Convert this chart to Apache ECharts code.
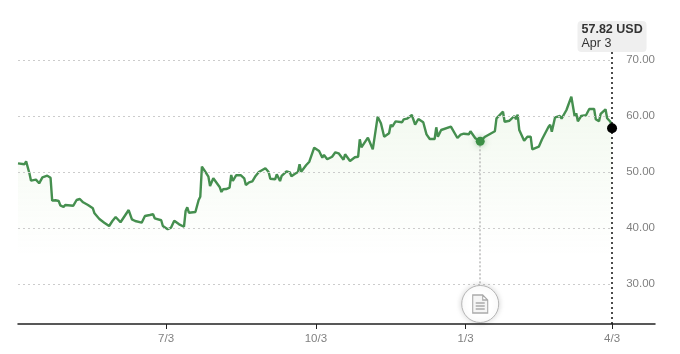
<!DOCTYPE html>
<html>
<head>
<meta charset="utf-8">
<script src="https://cdn.jsdelivr.net/npm/echarts@6/dist/echarts.min.js"></script>
<style>
  html, body { margin: 0; padding: 0; background: #fff; }
  #show { width: 680px; height: 354px; }
</style>
</head>
<body>
<div id="show"></div>
<script>
// days since the first point (Apr 3), and the closing price on that day
var days = [0, 4, 5, 7, 8, 11, 13, 15, 18, 20, 21, 23, 25, 26, 27, 28, 29, 34, 35, 36, 38, 40, 43, 46, 47, 48, 50, 53, 56,
    58, 60, 61, 63, 68, 70, 72, 76, 77, 78, 81, 83, 84, 85, 88, 89, 92, 94, 96, 99, 102, 103, 104, 105, 109, 111, 112,
    113, 116, 117, 118, 120, 124, 125, 126, 128, 130, 131, 132, 134, 137, 139, 140, 142, 144, 146, 148, 152, 154, 155,
    158, 159, 161, 162, 165, 167, 168, 170, 172, 173, 174, 177, 179, 182, 185, 187, 188, 190, 193, 195, 197, 200, 201,
    202, 204, 207, 209, 210, 211, 215, 218, 221, 223, 224, 225, 228, 229, 230, 232, 236, 237, 239, 242, 244, 246, 249,
    251, 253, 256, 257, 258, 260, 266, 270, 272, 274, 277, 278, 281, 284, 287, 290, 293, 294, 298, 299, 302, 303, 305,
    306, 307, 308, 311, 313, 315, 316, 320, 322, 323, 326, 327, 328, 330, 333, 334, 337, 340, 342, 343, 344, 346, 349,
    351, 354, 355, 357, 358, 361, 362, 364, 365];
var prices = [51.55, 51.38, 51.9, 49.77, 48.45, 48.63, 47.98, 49.05, 49.34, 48.98, 44.88, 44.95, 44.82, 44.05, 44.11, 43.75, 44.11, 43.98, 43.7, 45.0, 45.18, 44.59, 44.11, 43.52, 42.63, 42.45, 41.61, 40.95, 40.36,
    41.25, 41.96, 41.91, 41.02, 43.21, 41.55, 41.25, 40.95, 41.2, 42.14, 42.32, 42.45, 41.73, 41.61, 41.38, 40.36, 39.77, 40.05, 41.3, 40.66, 40.23, 43.04, 43.7, 42.73, 42.86, 45.0, 45.59,
    50.95, 49.64, 49.16, 47.5, 48.88, 47.27, 46.43, 46.91, 46.96, 47.2, 49.46, 48.39, 49.41, 49.41, 48.88, 47.68, 48.16, 48.34, 49.29, 50.0, 50.66, 50.0, 48.8,
    48.7, 49.59, 48.39, 49.29, 50.13, 49.95, 49.23, 49.64, 50.0, 51.38, 50.05, 51.2, 51.84, 54.34, 53.75, 52.55, 53.04, 52.27, 52.73, 53.52, 53.34, 52.2, 53.16,
    53.27, 51.96, 52.63, 52.73, 55.84, 54.41, 56.13, 54.05, 59.88, 58.7, 58.52, 56.3, 56.91, 58.45, 58.09, 59.05, 58.88, 59.41, 59.52, 60.18, 58.45, 59.46, 58.88,
    56.73, 55.89, 55.89, 57.98, 56.3, 57.5, 58.09, 56.07, 56.66, 56.84, 56.73, 57.27, 56.02, 55.48, 56.3, 56.79, 57.27, 59.59, 60.77, 58.98, 59.16, 58.98, 60.0,
    59.41, 60.23, 57.5, 55.59, 56.3, 56.3, 54.05, 54.52, 55.84, 55.95, 58.09, 58.45, 57.2, 59.77, 60.0, 59.52, 61.07, 63.45, 60.0, 60.48, 59.05, 60.0, 60.13,
    61.25, 61.25, 59.41, 59.05, 60.36, 61.2, 59.59, 58.98, 57.82];

var priceTicks = [30, 40, 50, 60, 70];
var dateTicks = [91, 183, 275, 365];
var dateLabels = ['7/3', '10/3', '1/3', '4/3'];
var eventDay = 284;
var eventPrice = 55.48;
var lastDay = 365;
var lastPrice = 57.82;
var lastDate = 'Apr 3';

var lineColor = '#458f4f';
var fontName = '"Liberation Sans", Arial, sans-serif';

var gridLines = priceTicks.map(function (p) {
    return [
        { coord: [0, p] },
        { coord: [lastDay, p] }
    ];
});

// crosshair on the last point, and the stem up from the news bubble
var stems = [
    [
        { coord: [lastDay, 71.43], lineStyle: { color: '#111', type: [2, 3], width: 1.5 } },
        { coord: [lastDay, 22.86] }
    ],
    [
        { coord: [eventDay, eventPrice], lineStyle: { color: '#bbb', type: [2, 2], width: 1.5 } },
        { coord: [eventDay, 28] }
    ]
];

var myChart = echarts.init(document.getElementById('show'), null, { renderer: 'canvas' });

myChart.setOption({
    animation: false,
    textStyle: { fontFamily: fontName },
    grid: { left: 18, right: 25, top: 22, bottom: 30 },
    xAxis: {
        type: 'value',
        min: 0,
        max: 391.4,
        axisLine: { lineStyle: { color: '#222', width: 1.5 } },
        axisTick: {
            show: true,
            length: 5,
            lineStyle: { color: '#222' },
            customValues: dateTicks
        },
        axisLabel: {
            color: '#808080',
            fontSize: 11.5,
            fontFamily: fontName,
            margin: 9,
            customValues: dateTicks,
            formatter: function (v) {
                return dateLabels[dateTicks.indexOf(v)];
            }
        },
        splitLine: { show: false }
    },
    yAxis: {
        type: 'value',
        position: 'right',
        min: 22.857,
        max: 76.786,
        axisLine: { show: false },
        axisTick: { show: false },
        splitLine: { show: false },
        axisLabel: {
            inside: true,
            margin: 0,
            color: '#808080',
            fontSize: 11.5,
            fontFamily: fontName,
            padding: [2, 0, 0, 0],
            customValues: priceTicks,
            formatter: function (v) { return v.toFixed(2); }
        }
    },
    series: [
        {
            type: 'line',
            data: days.map(function (d, i) { return [d, prices[i]]; }),
            showSymbol: false,
            smooth: false,
            silent: true,
            lineStyle: { color: lineColor, width: 2.4 },
            itemStyle: { color: lineColor },
            areaStyle: {
                color: new echarts.graphic.LinearGradient(0, 0, 0, 1, [
                    { offset: 0, color: 'rgba(130,195,100,0.15)' },
                    { offset: 0.7, color: 'rgba(130,195,100,0)' }
                ])
            },
            markLine: {
                silent: true,
                symbol: 'none',
                label: { show: false },
                lineStyle: { color: '#cccccc', type: [2, 3], width: 1 },
                data: gridLines.concat(stems)
            },
            markPoint: {
                silent: true,
                label: { show: false },
                data: [
                    {
                        coord: [lastDay, lastPrice],
                        symbol: 'circle',
                        symbolSize: 10,
                        itemStyle: { color: '#000' }
                    },
                    {
                        coord: [eventDay, eventPrice],
                        symbol: 'circle',
                        symbolSize: 9,
                        itemStyle: { color: '#3b8f45', shadowBlur: 6, shadowColor: 'rgba(60,140,70,0.5)' }
                    },
                    {
                        coord: [eventDay, 26.43],
                        symbol: 'circle',
                        symbolSize: 37,
                        itemStyle: {
                            color: '#fff',
                            borderColor: '#b5b5b5',
                            borderWidth: 1,
                            shadowBlur: 6,
                            shadowColor: 'rgba(0,0,0,0.18)'
                        }
                    },
                    {
                        coord: [eventDay, 26.43],
                        symbol: 'path://M0 0H10L15 5V18H0Z M10 0V5H15 M3 8H12 M3 11H12 M3 14H12',
                        symbolSize: [15, 18],
                        itemStyle: { color: 'rgba(0,0,0,0.04)', borderColor: '#aaa', borderWidth: 1.2 }
                    },
                    {
                        coord: [lastDay, 71.43],
                        symbol: 'circle',
                        symbolSize: 0,
                        label: {
                            show: true,
                            position: 'top',
                            distance: 0,
                            formatter: '{a|' + lastPrice.toFixed(2) + ' USD}\n{b|' + lastDate + '}',
                            backgroundColor: '#efefef',
                            borderRadius: 4,
                            padding: [2, 4, 1, 4],
                            rich: {
                                a: { fontSize: 12.5, fontWeight: 'bold', color: '#333', lineHeight: 14, align: 'left', fontFamily: fontName, width: 61 },
                                b: { fontSize: 12.5, color: '#333', lineHeight: 14, align: 'left', fontFamily: fontName, width: 61 }
                            }
                        }
                    }
                ]
            }
        }
    ]
});
</script>
</body>
</html>
